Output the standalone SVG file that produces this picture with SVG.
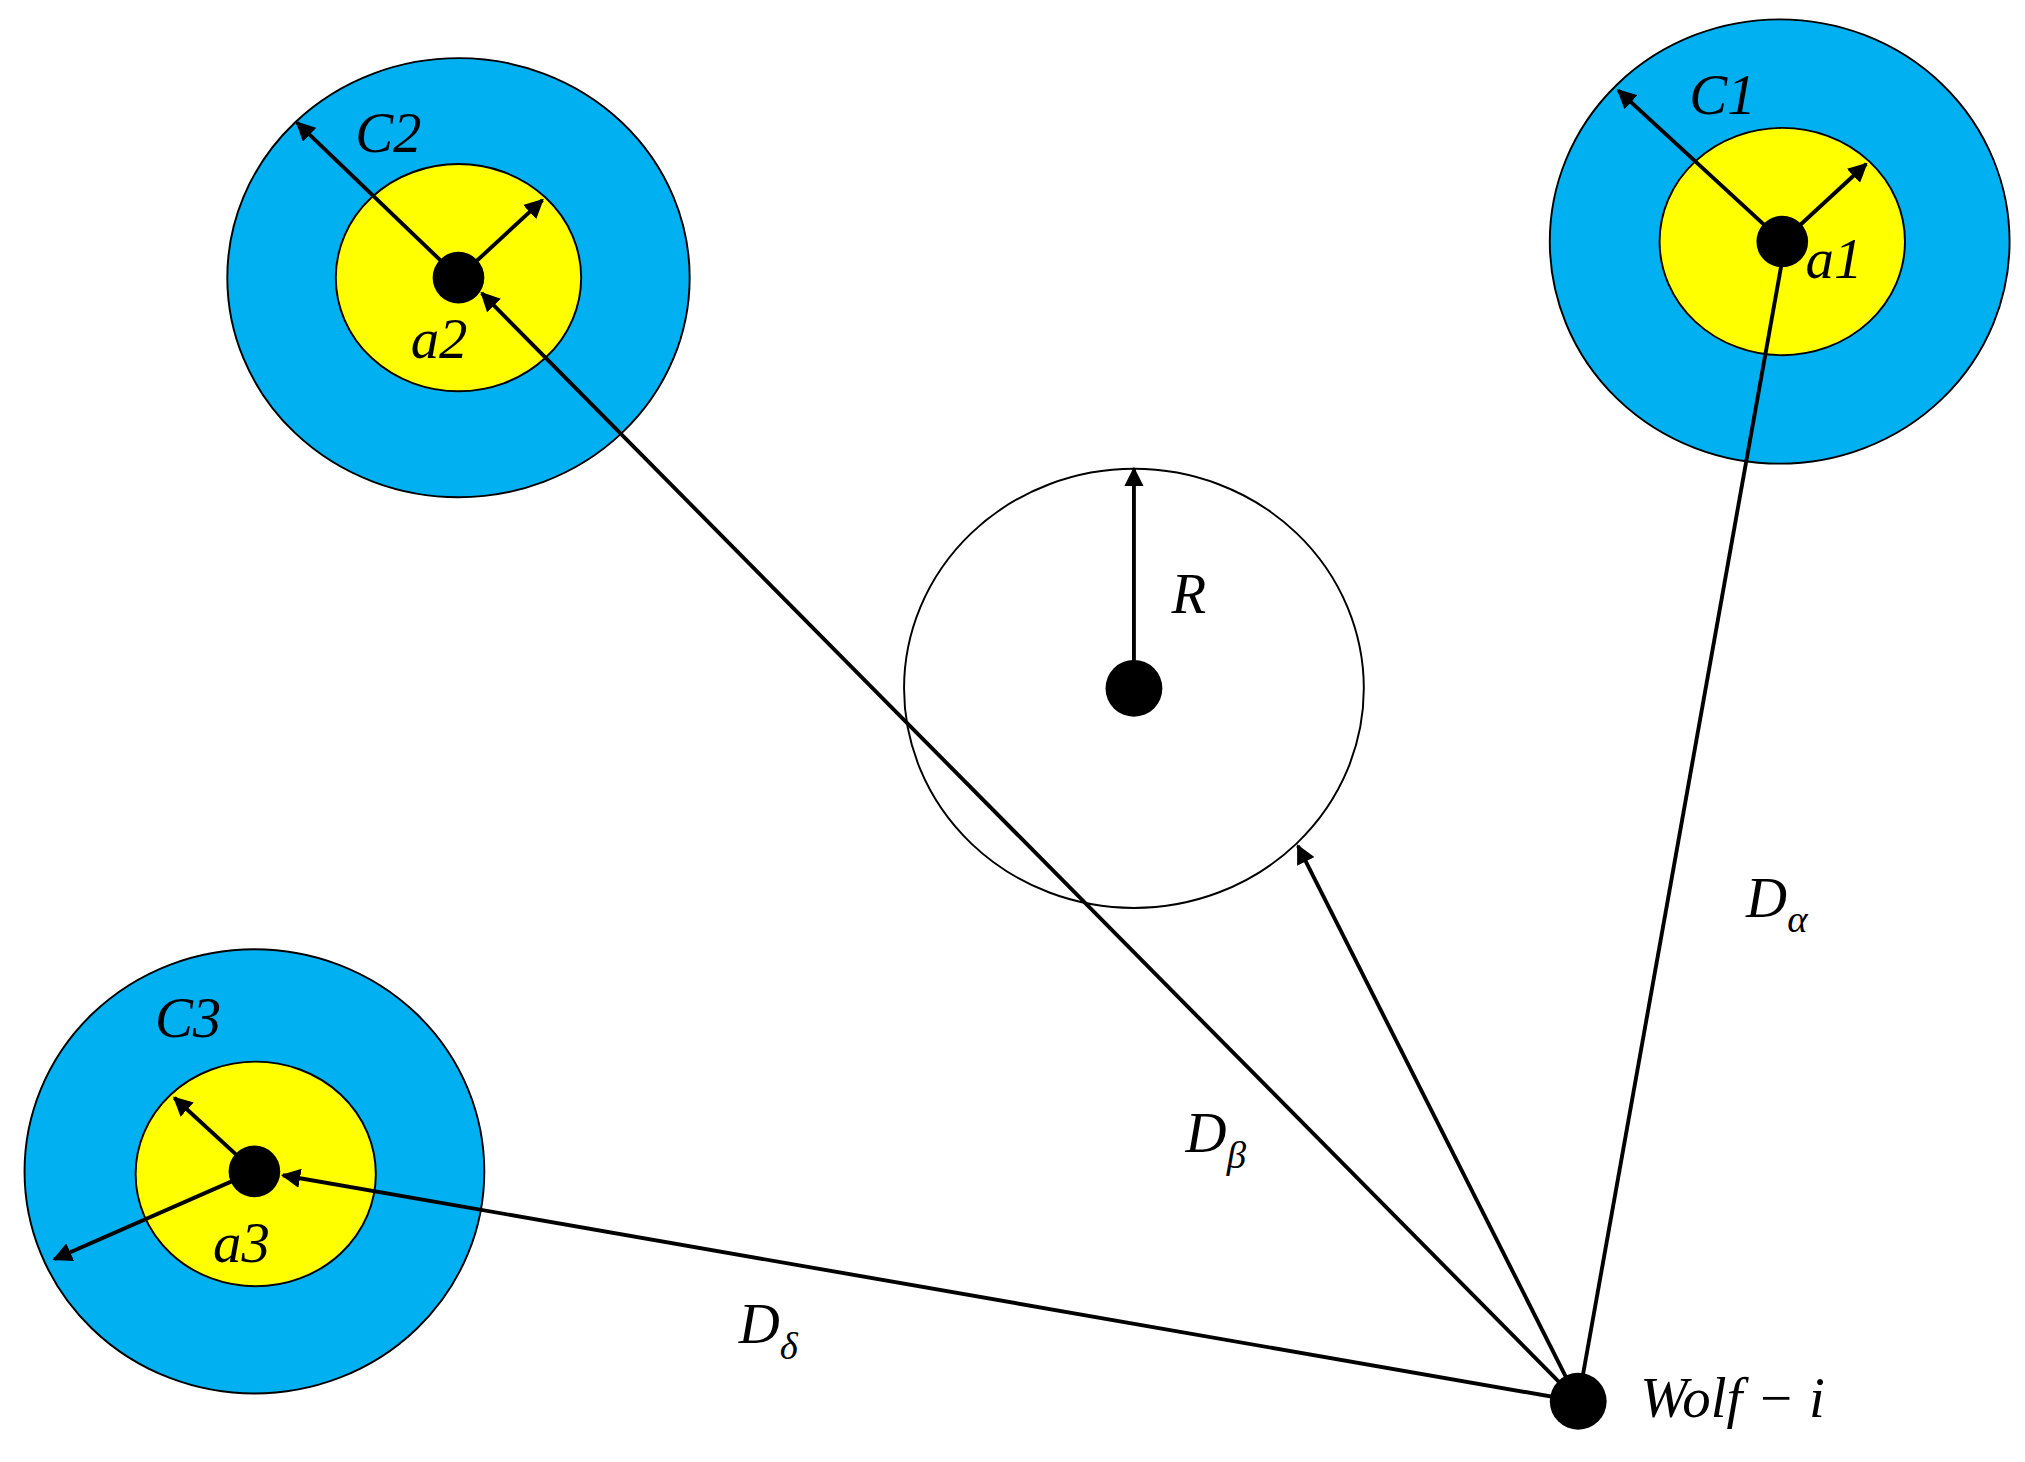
<svg xmlns="http://www.w3.org/2000/svg" width="2025" height="1462" viewBox="0 0 2025 1462">
<style>
.o{fill:#00b0f0;stroke:#000;stroke-width:1.5}
.y{fill:#ffff00;stroke:#000;stroke-width:1.5}
.d{fill:#000}
.c{stroke:#000;stroke-width:3;fill:none;marker-end:url(#ah)}
.t{font-family:"Liberation Serif",serif;font-style:italic;font-size:44px;fill:#000}
.s{font-size:30px}
</style>
<defs><marker id="ah" viewBox="0 0 10 10" refX="9" refY="5" markerWidth="5" markerHeight="5" orient="auto" markerUnits="strokeWidth"><path d="M0,0L10,5L0,10z" fill="#000"/></marker></defs>
<rect width="2025" height="1462" fill="#fff"/>
<g transform="scale(1.2915)">
<g id="c2"><ellipse class="o" cx="355" cy="215" rx="179" ry="170"/><ellipse class="y" cx="355" cy="215" rx="95" ry="88"/><circle class="d" cx="355" cy="215" r="20"/><text class="t" x="275" y="118">C2</text><text class="t" x="318" y="277">a2</text></g>
<g id="c1"><ellipse class="o" cx="1378" cy="187" rx="178" ry="172"/><ellipse class="y" cx="1380" cy="187" rx="95" ry="88"/><circle class="d" cx="1380" cy="187" r="20"/><text class="t" x="1308" y="88">C1</text><text class="t" x="1398" y="215">a1</text></g>
<g id="c3"><ellipse class="o" cx="197" cy="907" rx="178" ry="172"/><ellipse class="y" cx="198" cy="909" rx="93" ry="87"/><circle class="d" cx="197" cy="907" r="20"/><text class="t" x="120" y="803">C3</text><text class="t" x="165" y="977">a3</text></g>
<g id="r"><ellipse cx="878" cy="533" rx="178" ry="170" fill="none" stroke="#000" stroke-width="1.5"/><circle class="d" cx="878" cy="533" r="22"/><text class="t" x="907" y="475">R</text></g>
<g id="wolf"><circle class="d" cx="1222" cy="1085" r="22"/><text class="t" x="1270" y="1097">Wolf − i</text></g>
<g id="labels"><text class="t" x="1352" y="710">D<tspan class="s" dy="12">α</tspan></text><text class="t" x="918" y="892">D<tspan class="s" dy="12">β</tspan></text><text class="t" x="572" y="1040">D<tspan class="s" dy="12">δ</tspan></text></g>
<g id="connectors">
<line class="c" x1="1222" y1="1085" x2="1382" y2="190"/>
<line class="c" x1="1222" y1="1085" x2="373" y2="227"/>
<line class="c" x1="1222" y1="1085" x2="1005" y2="655"/>
<line class="c" x1="1222" y1="1085" x2="219" y2="910"/>
<line class="c" x1="355" y1="215" x2="230" y2="95"/>
<line class="c" x1="355" y1="215" x2="420" y2="155"/>
<line class="c" x1="1380" y1="187" x2="1253" y2="70"/>
<line class="c" x1="1380" y1="187" x2="1445" y2="127"/>
<line class="c" x1="197" y1="907" x2="135" y2="850"/>
<line class="c" x1="197" y1="907" x2="42" y2="975"/>
<line class="c" x1="878" y1="533" x2="878" y2="363"/>
</g>
</g>
</svg>
